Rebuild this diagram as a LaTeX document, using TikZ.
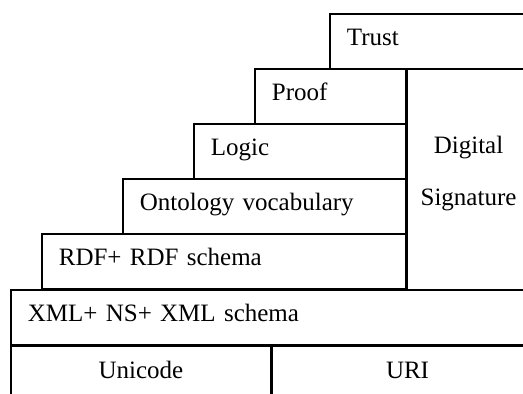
\documentclass[tikz,border=0pt]{standalone}
\usepackage{fontspec}
\setmainfont[WordSpace=0.7]{Liberation Serif}
\usetikzlibrary{positioning}

\begin{document}
\begin{tikzpicture}[x=1pt, y=-1pt]
    \tikzset
    {
        base/.style = {draw,
                       line width = 1.7pt,
                       anchor = north west,
                       minimum height = 55pt,
                       inner sep = 0pt,
                       font = \fontsize{25}{30}\selectfont},
        layer/.style = {base,
                        inner xsep = 17pt,
                        align = left,
                        text height = 17pt,
                        text depth = 8pt},
        footing/.style = {layer,
                          align = center}
    };

    \useasboundingbox (0,0) rectangle (523,394);
    \clip (0,0) rectangle (523,394);

    % Row #
    % 1
    \node[layer, text width=177pt] (trust) at (329,13) {Trust};
    % 2
    \node[layer, text width=117pt] (proof) at (254,68) {Proof};
    \node[base, minimum width=122pt, minimum height=221pt, align=center]
        (signature) at (proof.north east)
        {Digital\\[22pt]Signature\rule[-17pt]{0pt}{17pt}};
    % 3
    \node[layer, text width=178pt] (logic) at (193,123) {Logic};
    % 4
    \node[layer, text width=249pt] (onto) at (122,178) {Ontology vocabulary};
    % 5
    \node[layer, text width=330pt] (rdf) at (41,233) {RDF+ RDF schema};
    % 6
    \node[layer, text width=496pt] (xml) at (10,289) {XML+ NS+ XML schema};
    % 7
    \node[footing, text width=226pt] (unicode) at (xml.south west) {Unicode};
    \node[footing, text width=236pt] (uri) at (unicode.north east) {URI};

\end{tikzpicture}
\end{document}
